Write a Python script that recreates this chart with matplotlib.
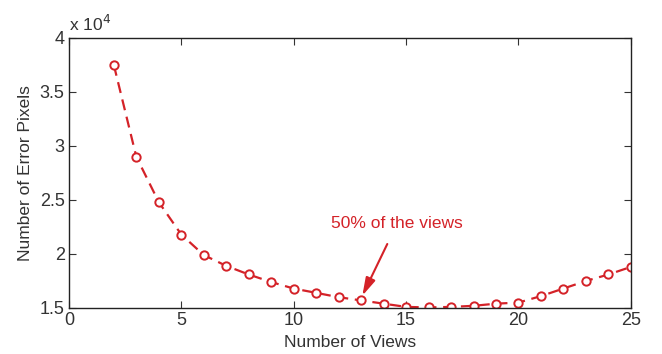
import matplotlib
matplotlib.use("Agg")
import matplotlib.pyplot as plt
from matplotlib.ticker import FuncFormatter

plt.rcParams['font.family'] = ['Liberation Sans', 'DejaVu Sans']

# error pixel count vs number of views
views = [2, 3, 4, 5, 6, 7, 8, 9, 10, 11, 12, 13, 14, 15, 16, 17, 18, 19, 20, 21, 22, 23, 24, 25]
error_pixels = [37500, 29000, 24800, 21800, 19900, 18900, 18100, 17400, 16800, 16400, 16000, 15700,
                15400, 15100, 15050, 15100, 15200, 15400, 15500, 16100, 16800, 17500, 18100, 18800]

red = '#d42228'
ink = '#333333'

fig = plt.figure(figsize=(6.62, 3.54), dpi=100)
ax = fig.add_axes([0.104, 0.130, 0.849, 0.763])

ax.plot(views, error_pixels, '--o', color=red, lw=1.6, dashes=(5, 3),
        markersize=6, markerfacecolor='white', markeredgewidth=1.4)

ax.set_xlim(0, 25)
ax.set_ylim(15000, 40000)
ax.set_xticks([0, 5, 10, 15, 20, 25])
ax.set_yticks([15000, 20000, 25000, 30000, 35000, 40000])
ax.yaxis.set_major_formatter(FuncFormatter(lambda v, p: '%g' % (v / 1e4)))
ax.tick_params(direction='in', top=True, right=True, labelsize=13, length=5,
               colors=ink, pad=3)
for s in ax.spines.values():
    s.set_color('#222222')
    s.set_linewidth(1.0)

ax.text(0.0, 1.015, 'x 10$^4$', transform=ax.transAxes, fontsize=12.5, color=ink,
        ha='left', va='bottom')

ax.set_xlabel('Number of Views', fontsize=12.5, color=ink, labelpad=4)
ax.set_ylabel('Number of Error Pixels', fontsize=12.5, color=ink, labelpad=5)

# mark the 50% point
ax.annotate('50% of the views', xy=(13, 15900), xytext=(14.6, 22800),
            fontsize=12.5, color=red, ha='center', va='center',
            arrowprops=dict(arrowstyle='-|>,head_width=0.25,head_length=0.9', color=red,
                            lw=1.5, shrinkA=8, shrinkB=2, mutation_scale=12))

fig.savefig('out.png', dpi=100)
